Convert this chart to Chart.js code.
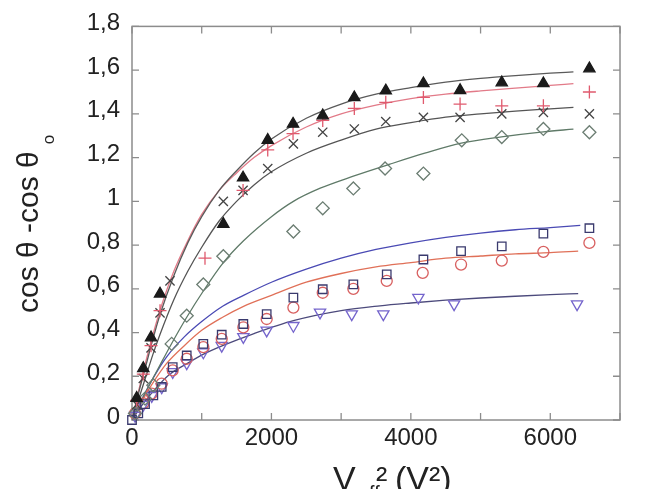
<!DOCTYPE html>
<html><head><meta charset="utf-8">
<script src="https://cdn.jsdelivr.net/npm/chart.js@4.4.1/dist/chart.umd.min.js"></script>
<style>html,body{margin:0;padding:0;background:#fff;}#wrap{width:664px;height:489px;}</style>
</head><body><div id="wrap"><canvas id="c" width="664" height="489"></canvas></div>
<script>
// ---- axes ----
const xTickValues = [0, 2000, 4000, 6000];
const xMinorTicks = [0, 1000, 2000, 3000, 4000, 5000, 6000, 7000];
const yTickValues = [0, 0.2, 0.4, 0.6, 0.8, 1, 1.2, 1.4, 1.6, 1.8];
const yTickLabels = ['0', '0,2', '0,4', '0,6', '0,8', '1', '1,2', '1,4', '1,6', '1,8'];

// ---- measured points ----
const triUpX = [67, 162, 273, 402, 1310, 1593, 1947, 2310, 2736, 3189, 3640, 4180, 4706, 5304, 5901, 6561];
const triUpY = [0.10, 0.236, 0.377, 0.577, 0.896, 1.108, 1.28, 1.354, 1.392, 1.475, 1.506, 1.539, 1.508, 1.543, 1.539, 1.607];

const plusX = [67, 162, 273, 402, 1047, 1593, 1947, 2310, 2736, 3189, 3640, 4180, 4706, 5304, 5901, 6561];
const plusY = [0.09, 0.21, 0.34, 0.50, 0.74, 1.05, 1.235, 1.31, 1.37, 1.425, 1.453, 1.475, 1.445, 1.437, 1.437, 1.50];

const crossX = [67, 162, 273, 402, 545, 1310, 1593, 1947, 2315, 2736, 3189, 3640, 4180, 4706, 5304, 5901, 6561];
const crossY = [0.07, 0.19, 0.33, 0.49, 0.636, 1.0, 1.05, 1.15, 1.263, 1.316, 1.331, 1.365, 1.384, 1.384, 1.40, 1.407, 1.40];

const diamondX = [43, 187, 306, 569, 785, 1023, 1310, 2315, 2736, 3175, 3630, 4180, 4730, 5304, 5901, 6561];
const diamondY = [0.03, 0.098, 0.159, 0.348, 0.477, 0.62, 0.749, 0.862, 0.968, 1.059, 1.15, 1.127, 1.279, 1.294, 1.331, 1.316];

const squareX = [0, 90, 187, 306, 426, 584, 785, 1023, 1287, 1597, 1932, 2315, 2736, 3175, 3654, 4180, 4720, 5304, 5901, 6561];
const squareY = [0, 0.03, 0.073, 0.113, 0.151, 0.242, 0.295, 0.348, 0.39, 0.439, 0.484, 0.56, 0.598, 0.62, 0.666, 0.734, 0.772, 0.794, 0.852, 0.877];

const circleX = [43, 162, 283, 426, 584, 785, 1023, 1287, 1597, 1932, 2315, 2736, 3175, 3654, 4170, 4720, 5304, 5901, 6561];
const circleY = [0.03, 0.076, 0.121, 0.166, 0.227, 0.28, 0.333, 0.371, 0.424, 0.462, 0.514, 0.582, 0.60, 0.636, 0.673, 0.711, 0.729, 0.769, 0.81];

const triDownX = [43, 162, 283, 426, 584, 785, 1023, 1287, 1597, 1932, 2315, 2697, 3152, 3605, 4108, 4620, 6384];
const triDownY = [0.02, 0.07, 0.11, 0.15, 0.22, 0.26, 0.31, 0.34, 0.38, 0.41, 0.431, 0.492, 0.484, 0.484, 0.56, 0.53, 0.53];

// ---- fitted curves ----
const fitTriUpX = [0, 100, 200, 300, 400, 600, 800, 1000, 1250, 1500, 1750, 2000, 2500, 3000, 3500, 4000, 4500, 5000, 5500, 6000, 6332];
const fitTriUpY = [0, 0.13, 0.25, 0.37, 0.48, 0.66, 0.81, 0.93, 1.05, 1.14, 1.22, 1.285, 1.38, 1.445, 1.49, 1.52, 1.545, 1.562, 1.575, 1.586, 1.592];

const fitPlusX = [0, 100, 200, 300, 400, 600, 800, 1000, 1250, 1500, 1750, 2000, 2500, 3000, 3500, 4000, 4500, 5000, 5500, 6000, 6332];
const fitPlusY = [0, 0.14, 0.27, 0.39, 0.50, 0.68, 0.82, 0.94, 1.05, 1.13, 1.20, 1.255, 1.34, 1.40, 1.44, 1.47, 1.49, 1.505, 1.518, 1.53, 1.538];

const fitCrossX = [0, 100, 200, 300, 400, 600, 800, 1000, 1250, 1500, 1750, 2000, 2500, 3000, 3500, 4000, 4500, 5000, 5500, 6000, 6332];
const fitCrossY = [0, 0.10, 0.20, 0.30, 0.39, 0.55, 0.68, 0.79, 0.91, 1.00, 1.075, 1.135, 1.22, 1.28, 1.33, 1.36, 1.385, 1.40, 1.413, 1.423, 1.43];

const fitDiamondX = [0, 200, 400, 569, 785, 1023, 1310, 1600, 2000, 2315, 2700, 3175, 3700, 4200, 4706, 5300, 5900, 6332];
const fitDiamondY = [0, 0.13, 0.25, 0.35, 0.47, 0.59, 0.72, 0.82, 0.93, 1.00, 1.06, 1.115, 1.17, 1.22, 1.265, 1.295, 1.318, 1.33];

const fitSquareX = [0, 150, 300, 500, 750, 1000, 1300, 1600, 2000, 2500, 3000, 3500, 4000, 4500, 5000, 5500, 6000, 6430];
const fitSquareY = [0, 0.10, 0.19, 0.29, 0.38, 0.45, 0.52, 0.57, 0.63, 0.69, 0.74, 0.78, 0.81, 0.835, 0.855, 0.87, 0.88, 0.89];

const fitCircleX = [0, 150, 300, 500, 750, 1000, 1300, 1600, 2000, 2500, 3000, 3500, 4000, 4500, 5000, 5500, 6000, 6400];
const fitCircleY = [0, 0.09, 0.17, 0.26, 0.34, 0.41, 0.47, 0.52, 0.57, 0.63, 0.67, 0.70, 0.72, 0.74, 0.75, 0.76, 0.765, 0.772];

const fitTriDownX = [0, 150, 300, 545, 800, 1020, 1300, 1741, 2315, 3000, 3558, 4000, 4500, 5000, 5500, 6000, 6400];
const fitTriDownY = [0, 0.07, 0.13, 0.21, 0.26, 0.30, 0.34, 0.394, 0.454, 0.50, 0.522, 0.535, 0.548, 0.558, 0.566, 0.573, 0.578];

const pts = (xs, ys) => xs.map((x, i) => ({x, y: ys[i]}));

function markerSet(label, xs, ys, style, color, radius, fill, rot) {
  return {
    label, data: pts(xs, ys), showLine: false, order: 0, clip: false,
    pointStyle: style, pointRadius: radius, pointHoverRadius: radius,
    pointRotation: rot || 0, borderColor: color, pointBorderColor: color,
    pointBackgroundColor: fill ? color : 'rgba(0,0,0,0)', pointBorderWidth: 1.3
  };
}
function lineSet(label, xs, ys, color) {
  return {
    label, data: pts(xs, ys), showLine: true, order: 1, pointRadius: 0,
    borderColor: color, borderWidth: 1.3, cubicInterpolationMode: 'monotone', fill: false
  };
}

const FONT = '"Liberation Sans", Arial, sans-serif';

const deco = {
  id: 'deco',
  beforeDatasetsDraw(chart) {
    const {ctx, chartArea: a, scales: {x, y}} = chart;
    ctx.save();
    ctx.strokeStyle = '#8c8c8c';
    ctx.lineWidth = 1.5;
    ctx.strokeRect(a.left, a.top, a.right - a.left, a.bottom - a.top);
    ctx.lineWidth = 1.3;
    ctx.beginPath();
    xMinorTicks.forEach(v => {
      const p = x.getPixelForValue(v);
      ctx.moveTo(p, a.bottom); ctx.lineTo(p, a.bottom - 7);
      ctx.moveTo(p, a.top); ctx.lineTo(p, a.top + 7);
    });
    yTickValues.forEach(v => {
      const p = y.getPixelForValue(v);
      ctx.moveTo(a.left, p); ctx.lineTo(a.left + 7, p);
      ctx.moveTo(a.right, p); ctx.lineTo(a.right - 7, p);
    });
    ctx.stroke();
    ctx.restore();
  },
  afterDraw(chart) {
    const ctx = chart.ctx;
    ctx.save();
    ctx.fillStyle = '#222';
    ctx.textBaseline = 'alphabetic';
    ctx.textAlign = 'left';
    // x title: V_eff^2 (V^2)
    ctx.font = '34px ' + FONT;
    ctx.fillText('V', 333, 490);
    ctx.font = '20px ' + FONT;
    ctx.fillText('eff', 358, 500);
    ctx.font = '34px ' + FONT;
    ctx.fillText('\u00B2', 376, 490);
    ctx.fillText('(V\u00B2)', 395, 490);
    // y title: cos θ -cos θ_o
    ctx.translate(38, 313);
    ctx.rotate(-Math.PI / 2);
    ctx.font = '30px ' + FONT;
    const main = 'cos \u03B8 -cos \u03B8';
    ctx.fillText(main, 0, 0);
    const w = ctx.measureText(main).width;
    ctx.font = '17px ' + FONT;
    ctx.fillText('o', w + 7, 16);
    ctx.restore();
  }
};

new Chart(document.getElementById('c'), {
  type: 'scatter',
  data: {
    datasets: [
      lineSet('fit ▲', fitTriUpX, fitTriUpY, '#5a5a5a'),
      lineSet('fit +', fitPlusX, fitPlusY, '#e27a88'),
      lineSet('fit ×', fitCrossX, fitCrossY, '#555555'),
      lineSet('fit ◇', fitDiamondX, fitDiamondY, '#5f7a68'),
      lineSet('fit □', fitSquareX, fitSquareY, '#4a4ab4'),
      lineSet('fit ○', fitCircleX, fitCircleY, '#e07058'),
      lineSet('fit ▽', fitTriDownX, fitTriDownY, '#4c4a7c'),
      markerSet('▲', triUpX, triUpY, 'triangle', '#1a1a1a', 6.5, true),
      markerSet('+', plusX, plusY, 'cross', '#e05a6e', 6.5, false),
      markerSet('×', crossX, crossY, 'crossRot', '#444444', 6.5, false),
      markerSet('◇', diamondX, diamondY, 'rectRot', '#6b7d72', 6.5, false),
      markerSet('□', squareX, squareY, 'rect', '#3a3a6e', 6, false),
      markerSet('○', circleX, circleY, 'circle', '#d86060', 5.5, false),
      markerSet('▽', triDownX, triDownY, 'triangle', '#7464cc', 6.5, false, 180)
    ]
  },
  options: {
    responsive: false,
    devicePixelRatio: 1,
    animation: false,
    layout: {padding: {left: 0, right: 44, top: 23, bottom: 0}},
    plugins: {legend: {display: false}, tooltip: {enabled: false}},
    scales: {
      x: {
        type: 'linear', min: 0, max: 7000,
        grid: {display: false, drawTicks: false},
        border: {display: false},
        afterFit: s => { s.height = 69; },
        afterBuildTicks: s => { s.ticks = xTickValues.map(v => ({value: v})); },
        ticks: {font: {family: FONT, size: 24}, color: '#222', padding: 4, maxRotation: 0, callback: v => String(v)}
      },
      y: {
        type: 'linear', min: 0, max: 1.8,
        grid: {display: false, drawTicks: false},
        border: {display: false},
        afterFit: s => { s.width = 132; },
        afterBuildTicks: s => { s.ticks = yTickValues.map(v => ({value: v})); },
        ticks: {font: {family: FONT, size: 24}, color: '#222', padding: 12, labelOffset: -3,
          callback: (v) => { const i = yTickValues.findIndex(t => Math.abs(t - v) < 1e-6); return i >= 0 ? yTickLabels[i] : ''; }}
      }
    }
  },
  plugins: [deco]
});
</script>
</body></html>
